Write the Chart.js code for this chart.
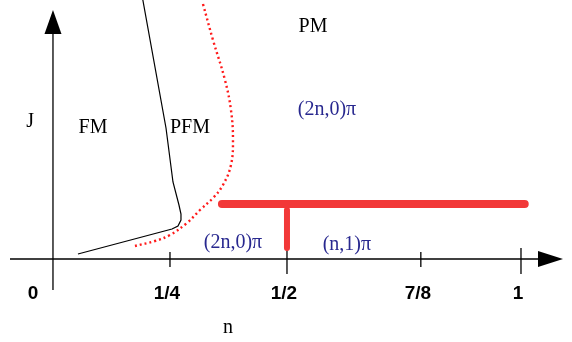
<!DOCTYPE html>
<html>
<head>
<meta charset="utf-8">
<script src="https://cdn.jsdelivr.net/npm/chart.js@4/dist/chart.umd.min.js"></script>
<style>
  html, body { margin: 0; padding: 0; background: #fff; }
  canvas { display: block; }
</style>
</head>
<body>
<canvas id="phase" width="572" height="342"></canvas>
<script>
// n axis ticks (7/8 sits where the original drawing put it)
var tickValues = [0, 0.25, 0.5, 0.786, 1];
var tickLabels = ["0", "1/4", "1/2", "7/8", "1"];

// FM / PFM boundary (solid black)
var fmBoundary = [
    { x: 0.192, y: 1.036 }, { x: 0.2415, y: 0.524 }, { x: 0.2564, y: 0.308 },
    { x: 0.2692, y: 0.216 }, { x: 0.2735, y: 0.18 }, { x: 0.2735, y: 0.156 },
    { x: 0.2671, y: 0.132 }, { x: 0.2543, y: 0.12 }, { x: 0.0534, y: 0.02 }
];
// PFM / PM crossover (red dotted)
var pmCrossover = [
    { x: 0.3205, y: 1.02 }, { x: 0.3419, y: 0.876 }, { x: 0.3675, y: 0.716 },
    { x: 0.3803, y: 0.596 }, { x: 0.3846, y: 0.476 }, { x: 0.3803, y: 0.376 },
    { x: 0.3632, y: 0.296 }, { x: 0.3419, y: 0.244 }, { x: 0.3141, y: 0.196 },
    { x: 0.2863, y: 0.144 }, { x: 0.25, y: 0.096 }, { x: 0.2179, y: 0.072 },
    { x: 0.1752, y: 0.052 }
];
// thick red phase borders
var hBorder = [{ x: 0.361, y: 0.22 }, { x: 1.008, y: 0.22 }];
var vBorder = [{ x: 0.5, y: 0.196 }, { x: 0.5, y: 0.044 }];

// region labels
var regionLabels = [
    { text: "J", x: -0.049, y: 0.548, color: "#000" },
    { text: "FM", x: 0.0855, y: 0.524, color: "#000" },
    { text: "PFM", x: 0.2927, y: 0.524, color: "#000" },
    { text: "PM", x: 0.5556, y: 0.928, color: "#000" },
    { text: "(2n,0)\u03c0", x: 0.5855, y: 0.596, color: "#28288f" },
    { text: "(2n,0)\u03c0", x: 0.3846, y: 0.064, color: "#28288f" },
    { text: "(n,1)\u03c0", x: 0.628, y: 0.056, color: "#28288f" },
    { text: "n", x: 0.374, y: -0.276, color: "#000" }
];

var axesPlugin = {
    id: "axesPlugin",
    beforeDatasetsDraw: function (chart) {
        var ctx = chart.ctx;
        var xs = chart.scales.x, ys = chart.scales.y;
        var x0 = xs.getPixelForValue(0), y0 = ys.getPixelForValue(0);
        ctx.save();
        ctx.strokeStyle = "#000";
        ctx.fillStyle = "#000";
        ctx.lineWidth = 1.3;
        // n axis
        ctx.beginPath();
        ctx.moveTo(10, y0);
        ctx.lineTo(540, y0);
        ctx.stroke();
        ctx.beginPath();
        ctx.moveTo(538, y0 - 8);
        ctx.lineTo(563, y0);
        ctx.lineTo(538, y0 + 8);
        ctx.closePath();
        ctx.fill();
        // J axis
        ctx.beginPath();
        ctx.moveTo(x0, 290);
        ctx.lineTo(x0, 32);
        ctx.stroke();
        ctx.beginPath();
        ctx.moveTo(x0 - 8.5, 34);
        ctx.lineTo(x0, 10);
        ctx.lineTo(x0 + 8.5, 34);
        ctx.closePath();
        ctx.fill();
        // ticks and labels
        ctx.font = "bold 19px 'Liberation Sans', Arial, sans-serif";
        ctx.textAlign = "center";
        ctx.textBaseline = "middle";
        tickValues.forEach(function (v, i) {
            var px = xs.getPixelForValue(v);
            if (i > 0) {
                var big = (i === 2 || i === 4);
                ctx.beginPath();
                ctx.moveTo(px, y0 - (big ? 11 : 7));
                ctx.lineTo(px, y0 + (big ? 15 : 8));
                ctx.stroke();
            }
            ctx.fillText(tickLabels[i], i === 0 ? px - 20 : px - 3, 294);
        });
        ctx.restore();
    },
    afterDatasetsDraw: function (chart) {
        var ctx = chart.ctx;
        var xs = chart.scales.x, ys = chart.scales.y;
        ctx.save();
        ctx.font = "20px 'Liberation Serif', 'Times New Roman', serif";
        ctx.textAlign = "center";
        ctx.textBaseline = "middle";
        regionLabels.forEach(function (l) {
            ctx.fillStyle = l.color;
            ctx.fillText(l.text, xs.getPixelForValue(l.x), ys.getPixelForValue(l.y));
        });
        ctx.restore();
    }
};

new Chart(document.getElementById("phase"), {
    type: "scatter",
    data: {
        datasets: [
            {
                data: fmBoundary,
                showLine: true,
                borderColor: "#000",
                borderWidth: 1.2,
                pointRadius: 0,
                tension: 0
            },
            {
                data: pmCrossover,
                showLine: true,
                borderColor: "#ff1a1a",
                borderWidth: 2.4,
                borderDash: [2, 3],
                pointRadius: 0,
                tension: 0.4
            },
            {
                data: hBorder,
                showLine: true,
                borderColor: "#f23838",
                borderWidth: 8,
                borderCapStyle: "round",
                pointRadius: 0
            },
            {
                data: vBorder,
                showLine: true,
                borderColor: "#f23838",
                borderWidth: 6,
                borderCapStyle: "round",
                pointRadius: 0
            }
        ]
    },
    options: {
        responsive: false,
        animation: false,
        devicePixelRatio: 1,
        layout: { padding: 0 },
        clip: false,
        plugins: {
            legend: { display: false },
            tooltip: { enabled: false }
        },
        scales: {
            x: { type: "linear", display: false, min: -0.1132, max: 1.109 },
            y: { type: "linear", display: false, min: -0.332, max: 1.036 }
        }
    },
    plugins: [axesPlugin]
});
</script>
</body>
</html>
